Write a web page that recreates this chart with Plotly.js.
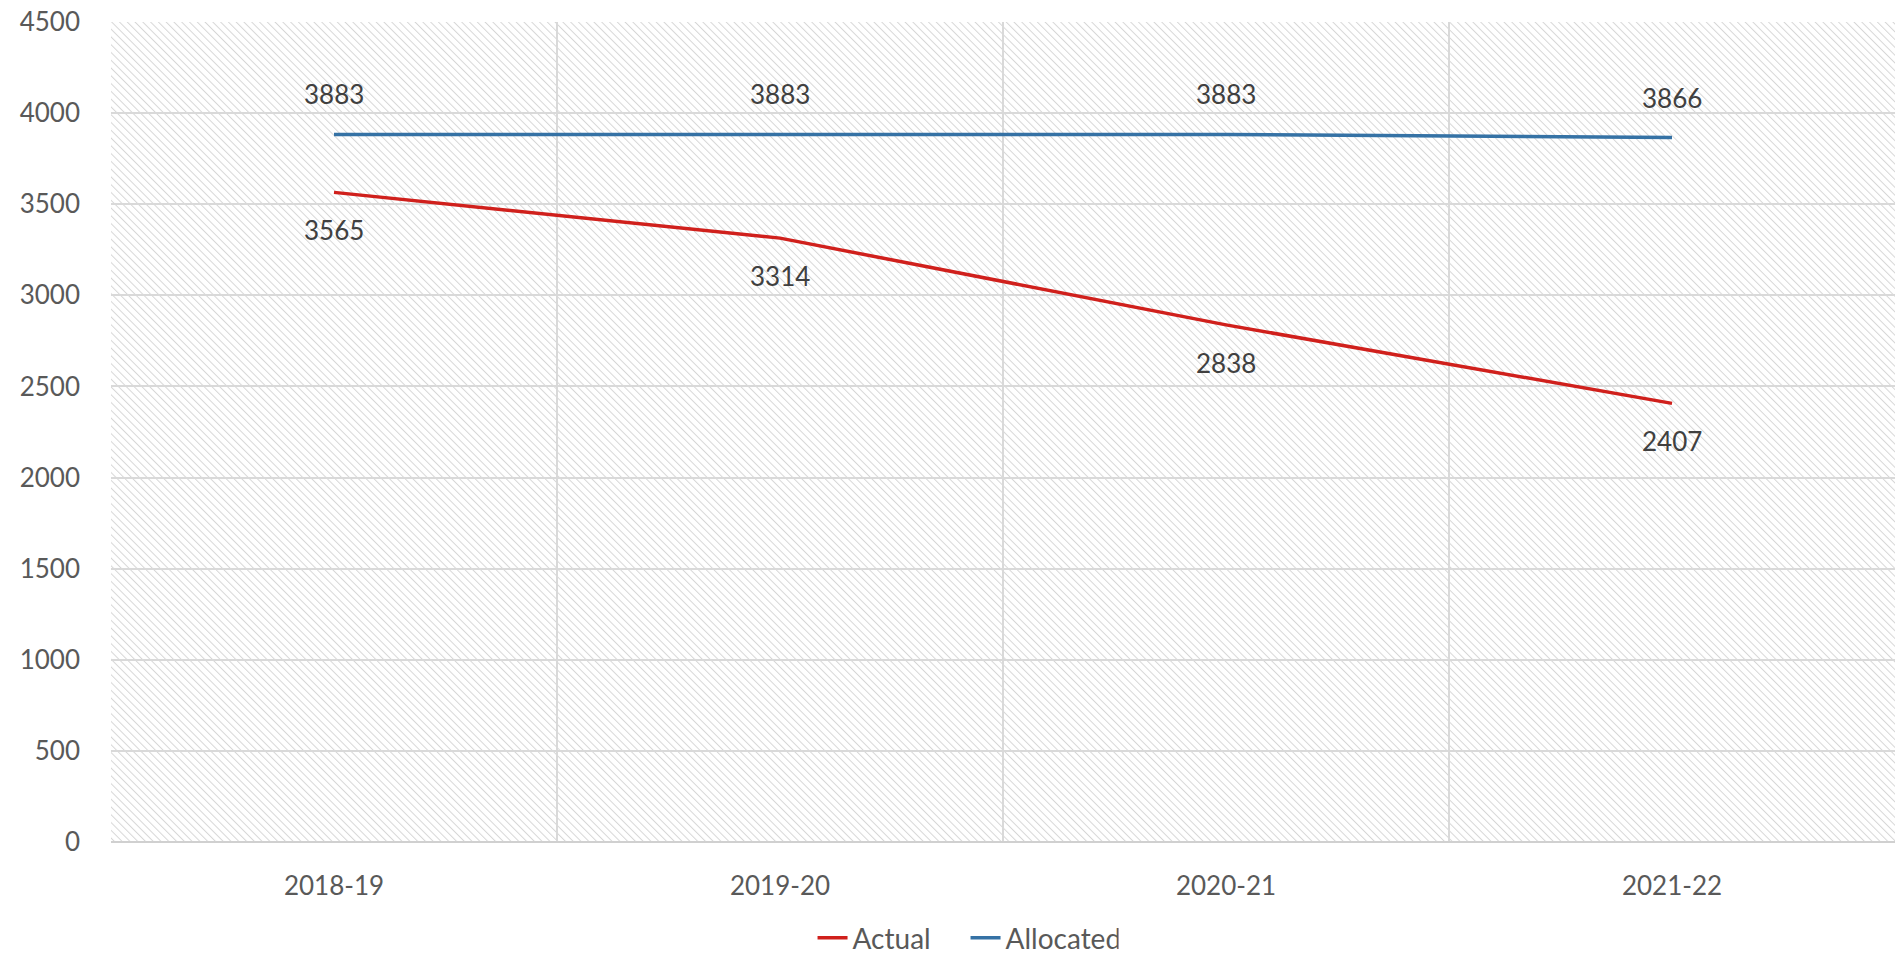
<!DOCTYPE html>
<html>
<head>
<meta charset="utf-8">
<script src="https://cdn.plot.ly/plotly-3.0.1.min.js"></script>
<style>html,body{margin:0;padding:0;background:#fff;}#chart{width:1895px;height:963px;}</style>
</head>
<body>
<div id="chart"></div>
<script>
var years = ["2018-19", "2019-20", "2020-21", "2021-22"];
var actual = [3565, 3314, 2838, 2407];
var allocated = [3883, 3883, 3883, 3866];
var yTicks = [0, 500, 1000, 1500, 2000, 2500, 3000, 3500, 4000, 4500];

var W = 1895, H = 963, ML = 111, MR = 0, MT = 22, MB = 121;
var pw = W - ML - MR, ph = H - MT - MB;

// hatch background as an SVG image
var hatch = '<svg xmlns="http://www.w3.org/2000/svg" width="' + pw + '" height="' + ph + '" preserveAspectRatio="none">' +
  '<defs><pattern id="p" width="5.5" height="5.5" patternUnits="userSpaceOnUse" patternTransform="rotate(-45)">' +
  '<line x1="0" y1="0" x2="0" y2="5.5" stroke="#d6d6d6" stroke-width="2"/></pattern></defs>' +
  '<rect width="100%" height="100%" fill="#ffffff"/><rect width="100%" height="100%" fill="url(#p)"/></svg>';
var hatchUri = 'data:image/svg+xml;charset=utf-8,' + encodeURIComponent(hatch);

var textColor = '#595959';
var fontFam = 'Lato, "Open Sans", sans-serif';

var traces = [
  {x: years, y: actual, name: 'Actual', type: 'scatter', mode: 'lines',
   line: {color: '#d0201c', width: 3.5}},
  {x: years, y: allocated, name: 'Allocated', type: 'scatter', mode: 'lines',
   line: {color: '#3572a5', width: 3.5}}
];

var annotations = [];
for (var i = 0; i < years.length; i++) {
  annotations.push({x: years[i], y: allocated[i], xref: 'x', yref: 'y', text: String(allocated[i]),
    showarrow: false, yshift: 40, font: {family: fontFam, size: 26, color: '#404040'}});
  annotations.push({x: years[i], y: actual[i], xref: 'x', yref: 'y', text: String(actual[i]),
    showarrow: false, yshift: -38, font: {family: fontFam, size: 26, color: '#404040'}});
}

var layout = {
  width: W, height: H,
  margin: {l: ML, r: MR, t: MT, b: MB, pad: 0, autoexpand: false},
  paper_bgcolor: '#ffffff',
  plot_bgcolor: '#ffffff',
  font: {family: fontFam, size: 26, color: textColor},
  showlegend: true,
  legend: {orientation: 'h', x: 0.479, xanchor: 'center', yref: 'container', y: 0.026, yanchor: 'middle',
    font: {family: fontFam, size: 28, color: textColor}, bgcolor: 'rgba(0,0,0,0)',
    entrywidth: 108, entrywidthmode: 'pixels'},
  xaxis: {type: 'category', tickson: 'boundaries', showgrid: true, gridcolor: '#d9d9d9', gridwidth: 2,
    showline: false, zeroline: false, ticks: '', range: [-0.5, 3.5], fixedrange: true,
    ticklabelstandoff: 26, tickfont: {family: fontFam, size: 26, color: textColor}},
  yaxis: {range: [0, 4500], tickvals: yTicks, showgrid: true, gridcolor: '#d9d9d9', gridwidth: 2,
    zeroline: true, zerolinecolor: '#d0d0d0', zerolinewidth: 2, showline: false, ticks: '',
    ticklabelstandoff: 30, tickfont: {family: fontFam, size: 26, color: textColor}},
  images: [{source: hatchUri, xref: 'paper', yref: 'paper', x: 0, y: 1, sizex: 1, sizey: 1,
    sizing: 'stretch', xanchor: 'left', yanchor: 'top', layer: 'below'}],
  annotations: annotations
};

Plotly.newPlot('chart', traces, layout, {displayModeBar: false, staticPlot: true});
</script>
</body>
</html>
